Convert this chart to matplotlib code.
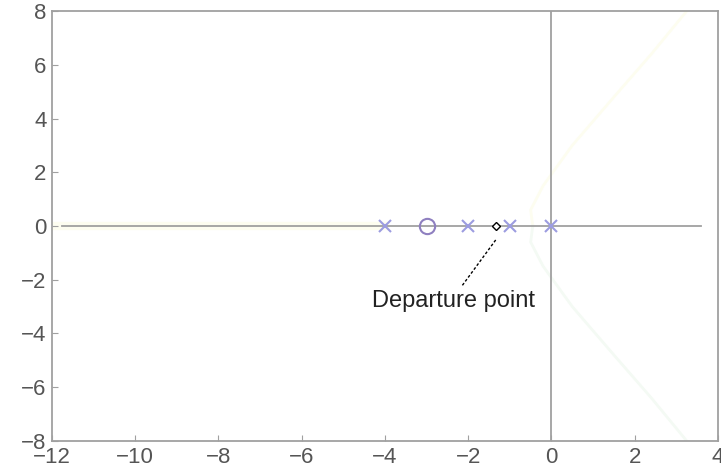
import matplotlib
matplotlib.use('Agg')
import matplotlib.pyplot as plt

plt.rcParams['font.family'] = ['Liberation Sans', 'DejaVu Sans']

# open loop poles and zero of the system
poles = [-4, -2, -1, 0]
zeros = [-3]

# faint root locus branches
upper_x = [-0.45, -0.5, -0.2, 0.5, 1.5, 2.4, 3.25]
upper_y = [0.0, 0.6, 1.5, 3.0, 4.8, 6.4, 8.0]
lower_x = [-0.45, -0.5, -0.2, 0.5, 1.5, 2.4, 3.25]
lower_y = [0.0, -0.6, -1.5, -3.0, -4.8, -6.4, -8.0]
left_x = [-12, -4]
left_y = [0, 0]

departure = (-1.34, 0.0)
label_pos = (-2.35, -2.78)
arrow_start = (-1.34, -0.52)
arrow_end = (-2.16, -2.25)

xticks = list(range(-12, 5, 2))
yticks = list(range(-8, 9, 2))

fig = plt.figure(figsize=(7.21, 4.73), dpi=100)
ax = fig.add_axes([0.0721, 0.0677, 0.9237, 0.909])

gray = '#a0a0a0'
# axes cross lines
ax.plot([-11.75, 3.6], [0, 0], color=gray, lw=1.3, zorder=1)
ax.axvline(0, color=gray, lw=1.3, zorder=1)

# locus branches, very faint like the original
ax.plot(upper_x, upper_y, color='#fdfdf0', lw=2, zorder=0)
ax.plot(lower_x, lower_y, color='#f4faf4', lw=2, zorder=0)
ax.plot(left_x, left_y, color='#fdfdf0', lw=6, zorder=0)

ax.plot(poles, [0] * len(poles), 'x', color='#9c9ce0', ms=9, mew=1.5, zorder=3)
ax.plot(zeros, [0] * len(zeros), 'o', mfc='none', mec='#8f80c0', ms=11, mew=1.5, zorder=3)

ax.plot(*departure, 'D', mfc='white', mec='black', ms=4, mew=1, zorder=4)
ax.plot([arrow_start[0], arrow_end[0]], [arrow_start[1], arrow_end[1]],
        color='black', lw=1, ls=(0, (2, 1.5)), zorder=4)
ax.text(*label_pos, 'Departure point', fontsize=17, ha='center', va='center', color='#222222')

ax.set_xlim(-12, 4)
ax.set_ylim(-8, 8)
ax.set_xticks(xticks)
ax.set_yticks(yticks)
ax.tick_params(direction='in', length=4, color=gray, labelcolor='#555555', labelsize=16, pad=4)
for s in ax.spines.values():
    s.set_color(gray)
    s.set_linewidth(1.3)

fig.savefig('out.png', dpi=100)
